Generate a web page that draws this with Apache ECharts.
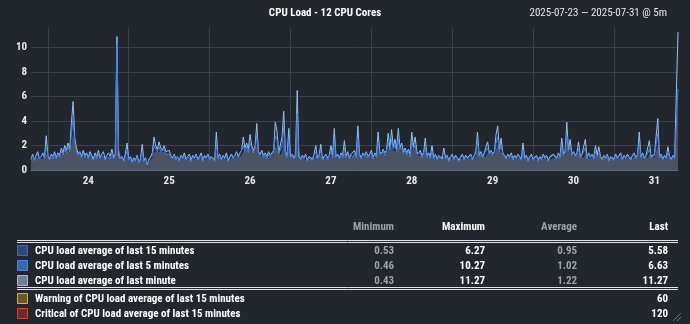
<!DOCTYPE html>
<html><head><meta charset="utf-8">
<script src="https://cdn.jsdelivr.net/npm/echarts@6/dist/echarts.min.js"></script>
<style>html,body{margin:0;padding:0;background:#22262d;}#c{width:690px;height:324px;}</style>
</head><body><div id="c"></div>
<script>
const chartTitle = 'CPU Load - 12 CPU Cores';
const rangeText = '2025-07-23 — 2025-07-31 @ 5m';
const startHour = 19;   // hours after 2025-07-23 00:00
const stepHours = 0.5;
const dayLabels = ['24','25','26','27','28','29','30','31'];
const yTicks = [0, 2, 4, 6, 8, 10];

const load15 = [
0.9,1.0,0.9,0.9,1.0,1.0,0.9,1.0,1.0,1.3,1.1,1.0,1.0,1.0,1.1,1.0,1.1,1.0,1.2,1.2,
1.4,1.4,1.5,1.5,2.2,3.0,2.0,1.6,1.3,1.2,1.1,1.2,1.1,1.1,1.0,1.1,1.0,0.9,1.0,1.0,
1.1,1.0,1.0,1.1,0.9,1.0,1.0,1.0,1.1,1.0,1.0,6.27,1.8,1.2,1.0,0.9,0.9,1.2,0.9,0.9,
0.8,0.8,0.8,0.9,0.7,0.7,1.0,0.8,0.8,0.53,0.7,0.8,1.0,1.5,1.5,1.5,1.6,1.5,1.4,1.5,
1.3,1.3,1.3,1.1,1.0,1.0,0.9,0.9,0.8,0.9,0.9,1.0,0.9,0.9,1.0,0.8,0.9,0.9,1.0,0.9,
0.9,1.0,0.8,0.9,0.9,1.0,0.9,0.9,1.0,0.8,1.5,1.1,1.0,0.9,0.9,0.9,1.0,0.8,0.9,1.0,
1.0,1.0,1.1,1.0,1.1,1.2,1.5,1.5,1.6,1.5,1.8,1.6,1.5,1.5,2.0,1.5,1.2,1.2,1.1,1.1,
1.0,1.1,1.0,1.0,1.2,2.0,2.0,1.4,1.2,1.5,2.5,1.5,1.1,1.8,1.2,1.1,1.0,1.0,3.2,1.5,
1.0,1.0,0.9,1.0,0.8,0.9,0.9,0.9,1.0,1.2,1.0,0.9,1.2,0.9,0.9,1.0,0.9,0.9,1.2,1.0,
1.8,1.2,1.0,1.0,1.1,1.0,1.4,1.1,1.1,1.0,1.0,1.0,1.2,1.0,1.9,1.3,1.0,1.1,1.0,1.2,
1.0,1.0,1.2,1.0,1.1,1.0,1.7,1.3,1.2,1.3,1.2,1.3,1.8,1.5,1.9,1.6,1.7,1.5,1.9,1.6,
1.6,1.4,1.4,1.3,1.3,1.2,1.7,1.6,1.7,1.4,1.2,1.2,1.1,1.1,1.5,1.2,1.1,1.0,1.2,1.0,
1.0,0.9,0.9,1.0,0.9,1.1,1.0,0.9,0.8,0.9,1.0,0.9,0.9,0.9,0.8,0.9,1.0,0.9,0.9,0.9,
0.9,1.0,0.9,0.9,1.0,1.6,1.3,1.2,1.1,1.1,1.1,1.4,1.3,1.3,1.2,1.2,1.7,2.0,1.6,1.7,
1.3,1.1,1.0,1.0,1.0,1.1,0.9,0.9,0.9,1.0,1.0,0.9,1.2,1.0,0.9,0.8,0.9,1.0,0.9,0.9,
0.9,0.8,0.9,0.9,1.0,0.9,0.9,0.8,0.9,0.9,1.0,1.0,1.0,1.1,1.0,1.4,1.3,1.2,2.0,1.6,
1.6,1.3,1.2,1.1,1.1,1.4,1.1,1.0,1.0,1.4,1.0,1.1,1.0,1.0,1.0,1.2,1.1,1.2,1.0,0.9,
0.9,0.9,1.0,0.8,0.9,1.0,0.9,1.0,0.9,0.9,1.1,0.9,0.9,0.9,1.0,1.0,0.9,0.9,1.1,1.0,
1.0,1.6,1.2,1.1,1.0,1.0,1.0,1.3,1.1,1.0,1.0,1.0,2.0,1.4,1.1,0.9,0.9,0.9,1.1,1.0,
0.9,0.9,0.9,0.9,5.58];

const load5 = [
0.8,1.2,0.8,1.1,1.3,0.9,1.0,1.3,0.9,2.0,1.2,0.8,1.2,0.9,1.3,0.9,1.3,1.0,1.5,1.2,
1.7,1.4,1.9,1.5,3.0,4.3,2.2,1.5,1.2,1.4,1.0,1.4,1.0,1.3,0.9,1.3,1.0,0.8,1.2,0.9,
1.3,0.9,1.2,1.3,0.8,1.1,1.2,0.9,1.4,0.9,1.2,10.27,1.5,0.9,1.1,0.7,1.1,1.6,0.8,1.0,
0.6,0.9,0.7,1.1,0.6,0.9,1.5,0.7,0.9,0.46,0.8,1.0,1.2,2.0,1.7,1.5,1.9,1.5,1.6,1.7,
1.3,1.4,1.3,1.2,0.9,1.2,0.8,1.1,0.7,1.1,0.9,1.2,0.8,1.1,1.2,0.7,1.1,0.9,1.2,0.8,
1.0,1.2,0.7,1.1,0.9,1.2,0.8,1.1,1.0,0.7,2.2,0.9,1.2,0.8,1.1,0.9,1.2,0.7,1.0,1.2,
0.9,1.2,1.3,1.0,1.3,1.4,2.0,1.5,1.9,1.4,2.2,1.8,1.4,1.7,2.8,1.4,1.2,1.4,1.0,1.3,
0.9,1.3,1.0,1.2,1.4,2.8,2.5,1.3,1.2,2.0,3.5,1.4,1.0,2.5,1.0,1.2,0.9,1.1,4.6,1.3,
0.8,1.1,0.9,1.2,0.7,1.0,1.1,0.8,1.2,1.5,0.9,1.1,1.6,0.8,1.0,1.2,0.8,1.1,1.5,1.0,
2.5,1.0,1.2,0.9,1.3,1.0,1.8,1.0,1.3,0.9,1.2,1.0,1.4,1.0,2.6,1.2,0.9,1.3,1.0,1.4,
1.0,1.2,1.4,0.9,1.3,1.0,2.3,1.3,1.2,1.5,1.2,1.5,2.2,1.6,2.5,1.7,2.0,1.5,2.5,1.6,
1.8,1.3,1.6,1.2,1.5,1.1,2.3,1.7,2.0,1.3,1.2,1.4,1.0,1.3,1.9,1.0,1.3,0.9,1.5,0.9,
1.2,0.8,1.1,0.9,0.8,1.4,0.9,1.1,0.7,1.0,1.2,0.8,1.1,0.9,0.7,1.0,1.2,0.8,1.1,0.9,
1.0,1.2,0.8,1.1,1.2,2.3,1.1,1.4,1.0,1.3,1.2,1.8,1.3,1.5,1.2,1.4,2.2,2.7,1.5,2.0,
1.3,1.1,0.9,1.2,1.0,1.3,0.8,1.1,0.9,1.2,1.0,0.8,1.6,0.9,1.1,0.7,1.0,1.2,0.8,0.9,
1.1,0.7,1.0,0.8,1.2,0.9,1.1,0.7,1.0,0.9,1.2,1.1,0.9,1.3,1.0,1.9,1.2,1.4,2.8,1.5,
1.9,1.2,1.4,1.1,1.3,1.7,1.0,1.2,1.1,1.8,0.9,1.3,1.0,1.2,0.9,1.5,1.1,1.4,1.0,0.8,
1.1,0.9,1.2,0.7,1.0,1.1,0.8,1.2,0.9,1.0,1.3,0.8,1.1,0.9,1.2,1.0,0.8,1.1,1.3,0.9,
1.2,2.2,1.0,1.3,0.9,1.1,1.2,1.7,1.0,0.9,1.2,1.1,3.0,1.0,1.2,0.8,1.1,0.9,1.4,1.0,
0.8,1.1,0.9,0.9,6.63];

const load1 = [
0.9,1.3,0.8,1.2,1.5,0.9,1.1,1.4,1.0,2.8,1.2,0.9,1.3,1.1,1.5,1.0,1.4,1.2,1.8,1.4,
2.0,1.6,2.2,1.7,3.9,5.6,2.6,1.8,1.3,1.5,1.1,1.6,1.2,1.4,1.0,1.5,1.2,0.9,1.4,1.1,
1.6,1.0,1.3,1.5,0.9,1.2,1.4,1.1,1.7,1.0,1.3,10.9,1.2,0.9,1.1,0.8,1.3,2.2,0.9,1.1,
0.7,1.0,0.8,1.2,0.7,0.9,2.1,0.8,1.0,0.43,0.9,1.1,1.4,2.7,2.0,1.7,2.3,1.8,1.6,2.0,
1.5,1.4,1.6,1.2,1.0,1.3,0.9,1.1,0.8,1.2,1.0,1.4,0.9,1.1,1.3,0.8,1.2,1.0,1.3,0.9,
1.1,1.4,0.8,1.2,1.0,1.3,0.9,1.1,1.2,0.8,3.1,1.0,1.3,0.9,1.2,1.0,1.4,0.8,1.1,1.3,
1.0,1.2,1.5,1.1,1.4,1.6,2.7,1.8,2.2,1.7,2.9,2.0,1.6,1.9,3.8,1.5,1.3,1.6,1.2,1.4,
1.1,1.5,1.2,1.3,1.6,3.9,3.2,1.4,1.3,2.7,4.8,1.5,1.2,3.4,1.1,1.3,1.0,1.2,6.5,1.1,
0.9,1.2,1.0,1.3,0.8,1.1,1.2,0.9,1.3,2.0,1.0,1.2,2.1,0.9,1.1,1.3,1.0,1.2,2.0,1.2,
3.4,1.1,1.3,1.0,1.4,1.2,2.4,1.1,1.5,1.0,1.3,1.2,1.6,1.1,3.6,1.3,1.0,1.4,1.2,1.5,
1.1,1.3,1.6,1.0,1.4,1.2,3.1,1.5,1.3,1.7,1.4,1.6,3.0,1.8,3.3,1.9,2.5,1.7,3.4,1.8,
2.2,1.5,1.8,1.4,1.7,1.3,3.1,1.9,2.7,1.5,1.3,1.6,1.2,1.4,2.6,1.2,1.4,1.1,2.0,1.0,
1.3,0.9,1.2,1.1,0.9,1.8,1.0,1.2,0.8,1.1,1.3,0.9,1.2,1.0,0.8,1.1,1.3,0.9,1.2,1.0,
1.1,1.3,0.9,1.2,1.4,3.1,1.2,1.5,1.1,1.4,1.3,2.3,1.4,1.6,1.3,1.5,2.9,3.6,1.7,2.6,
1.4,1.2,1.0,1.3,1.1,1.4,0.9,1.2,1.0,1.3,1.1,0.9,2.2,1.0,1.2,0.8,1.1,1.3,0.9,1.0,
1.2,0.8,1.1,0.9,1.3,1.0,1.2,0.8,1.1,1.0,1.3,1.2,1.0,1.4,1.1,2.6,1.3,1.5,3.9,1.6,
2.5,1.3,1.5,1.2,1.4,2.3,1.1,1.3,1.2,2.5,1.0,1.4,1.1,1.3,1.0,2.0,1.2,1.9,1.1,0.9,
1.2,1.0,1.3,0.8,1.1,1.2,0.9,1.3,1.0,1.1,1.4,0.9,1.2,1.0,1.3,1.1,0.9,1.2,1.4,1.0,
1.3,3.1,1.1,1.4,1.0,1.2,1.3,2.4,1.1,1.0,1.3,1.2,4.2,1.1,1.3,0.9,1.2,1.0,1.9,1.1,
0.9,1.2,1.0,0.9,11.27];

const seriesNames = ['CPU load average of last 15 minutes','CPU load average of last 5 minutes','CPU load average of last minute'];
const colMin = ['0.53','0.46','0.43'];
const colMax = ['6.27','10.27','11.27'];
const colAvg = ['0.95','1.02','1.22'];
const colLast = ['5.58','6.63','11.27'];
const thresholdNames = ['Warning of CPU load average of last 15 minutes','Critical of CPU load average of last 15 minutes'];
const thresholdLast = ['60','120'];
const columnHeaders = ['Minimum','Maximum','Average','Last'];

const FONT = '"Liberation Sans Narrow","Roboto Condensed","DejaVu Sans Condensed",Roboto,sans-serif';
const swatchFill = ['#2c4a7a','#3a68b0','#6f8098'];
const swatchStroke = ['#4068a8','#4f86d6','#a8b8cc'];
const thrFill = ['#6b5a26','#6b2b26'];
const thrStroke = ['#d8b030','#d04535'];

function pairs(arr){ return arr.map((v,i)=>[startHour + i*stepHours, v]); }
const endHour = startHour + (load1.length-1)*stepHours;
const noonValues = dayLabels.map(d => (Number(d)-23)*24 + 12);
const midnightValues = dayLabels.map(d => (Number(d)-23)*24);

const graphic = [];
const colX = [394, 485, 577, 668];
const headColors = ['#9ea3ab','#ffffff','#9ea3ab','#ffffff'];
columnHeaders.forEach((h,k)=>graphic.push({type:'text', style:{text:h, x:colX[k], y:227, fill:headColors[k], font:'bold 11px '+FONT, textAlign:'right', textVerticalAlign:'middle'}}));
[240.5,242.5,287.5,289.5].forEach(y=>graphic.push({type:'line', shape:{x1:17,y1:y,x2:678,y2:y}, style:{stroke:'#e4e4e4', lineWidth:1}}));
const rowY = [251,266,281];
seriesNames.forEach((n,k)=>{
  const y = rowY[k];
  graphic.push({type:'rect', shape:{x:17.5,y:y-5.5,width:10,height:10}, style:{fill:swatchFill[k], stroke:swatchStroke[k], lineWidth:1}});
  graphic.push({type:'text', style:{text:n, x:35, y:y, fill:'#ffffff', font:'bold 11px '+FONT, textVerticalAlign:'middle'}});
  const vals = [colMin[k], colMax[k], colAvg[k], colLast[k]];
  vals.forEach((v,j)=>graphic.push({type:'text', style:{text:v, x:colX[j], y:y, fill:headColors[j], font:'bold 11px '+FONT, textAlign:'right', textVerticalAlign:'middle'}}));
});
const thrY = [299,314];
thresholdNames.forEach((n,k)=>{
  const y = thrY[k];
  graphic.push({type:'rect', shape:{x:17.5,y:y-5.5,width:10,height:10}, style:{fill:thrFill[k], stroke:thrStroke[k], lineWidth:1}});
  graphic.push({type:'text', style:{text:n, x:35, y:y, fill:'#ffffff', font:'bold 11px '+FONT, textVerticalAlign:'middle'}});
  graphic.push({type:'text', style:{text:thresholdLast[k], x:colX[3], y:y, fill:'#ffffff', font:'bold 11px '+FONT, textAlign:'right', textVerticalAlign:'middle'}});
});
graphic.push({type:'line', shape:{x1:673,y1:321,x2:681,y2:313}, style:{stroke:'#6a6f78', lineWidth:1}});
graphic.push({type:'line', shape:{x1:677,y1:321,x2:681,y2:317}, style:{stroke:'#6a6f78', lineWidth:1}});
graphic.push({type:'text', style:{text:chartTitle, x:325, y:13, fill:'#ffffff', font:'bold 11px '+FONT, textAlign:'center', textVerticalAlign:'middle'}});
graphic.push({type:'text', style:{text:rangeText, x:667, y:13, fill:'#e6e6e6', font:'11px '+FONT, textAlign:'right', textVerticalAlign:'middle'}});

const chart = echarts.init(document.getElementById('c'), null, {renderer:'canvas'});
chart.setOption({
  backgroundColor:'#22262d',
  animation:false,
  grid:{left:31, right:12, top:28, bottom:154, containLabel:false},
  xAxis:{type:'value', min:startHour, max:endHour,
    axisLine:{show:true, lineStyle:{color:'#5f6878', width:1}},
    axisTick:{show:false, customValues:midnightValues},
    axisLabel:{customValues:noonValues, color:'#e8e8e8', fontFamily:FONT, fontWeight:'bold', fontSize:11, margin:6,
      formatter:v=>dayLabels[noonValues.indexOf(v)]},
    splitLine:{show:true, lineStyle:{color:'#3b414c', width:1}}},
  yAxis:{type:'value', min:0, max:11.6,
    axisLine:{show:false}, axisTick:{show:false, customValues:yTicks},
    axisLabel:{customValues:yTicks, color:'#e8e8e8', fontFamily:FONT, fontWeight:'bold', fontSize:11, margin:4},
    splitLine:{show:true, lineStyle:{color:'#3b414c', width:1}}},
  series:[
    {name:seriesNames[0], type:'line', data:pairs(load15), showSymbol:false, sampling:'none', z:2,
      lineStyle:{width:0}, areaStyle:{color:'#4a5363', opacity:1}},
    {name:seriesNames[2], type:'line', data:pairs(load1), showSymbol:false, sampling:'none', z:3,
      lineStyle:{width:1, color:'#93c2f5'}},
    {name:seriesNames[1], type:'line', data:pairs(load5), showSymbol:false, sampling:'none', z:4,
      lineStyle:{width:1, color:'#3f80ea'}}
  ],
  graphic:graphic
});
</script></body></html>
